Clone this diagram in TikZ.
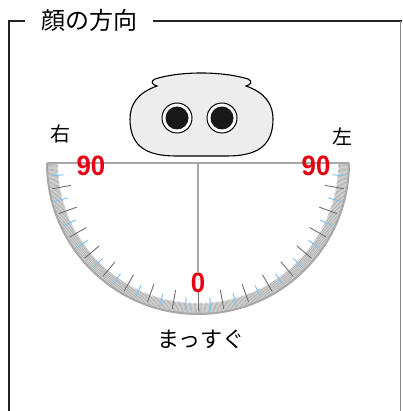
\documentclass[tikz,border=0pt]{standalone}
\usepackage{fontspec}
\setmainfont{Liberation Sans}
\newfontfamily\jpfont{Noto Sans CJK JP}
\definecolor{framedark}{HTML}{222222}
\definecolor{frameside}{HTML}{8C8C8C}
\definecolor{facefill}{HTML}{EDEDED}
\definecolor{scalegray}{HTML}{A8A8A8}
\definecolor{bandfill}{HTML}{DCDCDC}
\definecolor{tickblue}{HTML}{7CC4EC}
\definecolor{tickdark}{HTML}{707070}
\definecolor{degred}{HTML}{E60012}
\tikzset{
  jplabel/.style={font=\jpfont\fontsize{20}{22}\selectfont, text=black, inner sep=0pt},
  degnum/.style={font=\bfseries\fontsize{28}{29}\selectfont, text=degred, inner sep=0pt, xscale=0.92},
  outline/.style={draw=scalegray, line width=2pt},
}
\begin{document}
\begin{tikzpicture}[x=1pt,y=-1pt]
\useasboundingbox (0,0) rectangle (402,411);

% frame with title
\node[jplabel, font=\jpfont\fontsize{24}{26}\selectfont] (title) at (89,20) {顔の方向};
\draw[framedark, line width=2.4pt] (9,411) -- (9,21) -- (25,21);
\draw[framedark, line width=2.4pt] (153,21) -- (402,21);
\draw[frameside, line width=1pt] (400,21) -- (400,411);

% protractor geometry (y axis points down, so 90 degrees is straight down)
\coordinate (ctr) at (198,163);
\def\R{151}

% scale band with fine half-degree hatching
\fill[bandfill] (ctr) ++(180:\R) arc[start angle=180, end angle=0, radius=\R]
  -- ++(180:10) arc[start angle=0, end angle=180, radius=\R-10] -- cycle;
\foreach \a in {0.5,1,...,179.5}
  \draw[scalegray, line width=0.45pt] (ctr) ++(\a:\R) -- ++(\a+180:11);
\foreach \a in {5,15,...,175}
  \draw[tickblue, line width=1pt] (ctr) ++(\a:\R-3) -- ++(\a+180:13);
\foreach \a in {10,20,...,170}
  \draw[tickdark, line width=0.9pt] (ctr) ++(\a:\R-3) -- ++(\a+180:19);

% protractor outline
\draw[outline] (ctr) ++(180:\R) coordinate (leftend)
  arc[start angle=180, end angle=0, radius=\R] coordinate (rightend);
\draw[outline] (leftend) -- (rightend);

% face
\draw[black, line width=1.1pt, fill=facefill]
  (157,86) .. controls (152,85) and (150,81) .. (155,79)
  .. controls (180,71) and (222,71) .. (248,79)
  .. controls (253,81) and (251,85) .. (246,86)
  .. controls (266,93) and (273,105) .. (273,119)
  .. controls (273,146) and (257,156) .. (227,156)
  -- (176,156)
  .. controls (146,156) and (130,146) .. (130,119)
  .. controls (130,105) and (137,93) .. (157,86) -- cycle;
\foreach \ex/\nm in {177/eyeL,222/eyeR}{
  \draw[black, line width=1pt, fill=white] (\ex,118) circle[radius=15];
  \fill[black!90] (\ex,118) circle[radius=11.5];
  \coordinate (\nm) at (\ex,118);
}

% labels
\node[degnum] (ninetyL) at (91,166) {90};
\node[degnum] (ninetyR) at (316,166) {90};
\node[degnum] (zero) at (198,283) {0};
\draw[scalegray, line width=1.2pt] (ctr) -- (zero.north);
\node[jplabel] (migi) at (60,134) {右};
\node[jplabel] (hidari) at (342,137) {左};
\node[jplabel, font=\jpfont\fontsize{22}{24}\selectfont] (straight) at (201,339) {まっすぐ};
\end{tikzpicture}
\end{document}
